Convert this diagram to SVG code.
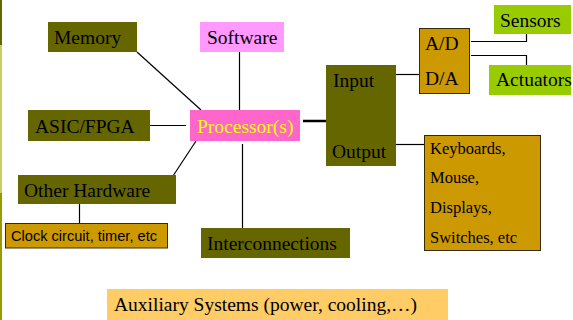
<svg xmlns="http://www.w3.org/2000/svg" width="573" height="320" viewBox="0 0 573 320">
<style>
.t{font-family:"Liberation Serif","Times New Roman",serif;font-size:19.5px;fill:#000}
.s{font-family:"Liberation Serif","Times New Roman",serif;font-size:16.5px;fill:#000}
.ol{fill:#666600}
.or{fill:#cc9900;stroke:#3a2a00;stroke-width:1}
.gr{fill:#99cc00}
.ln{stroke:#000;stroke-width:1.2;fill:none}
</style>
<rect x="0" y="0" width="573" height="320" fill="#fff"/>
<g id="edge">
<rect x="0" y="0" width="2" height="45" fill="#666600"/>
<rect x="0" y="45" width="2" height="148" fill="#cccc66"/>
<rect x="0" y="193" width="2" height="127" fill="#999900"/>
</g>
<g id="connectors">
<line class="ln" x1="137" y1="52" x2="201" y2="110"/>
<line class="ln" x1="239.5" y1="52" x2="239.5" y2="110"/>
<line class="ln" x1="150" y1="125.5" x2="186" y2="125.5"/>
<line class="ln" x1="196" y1="141" x2="171" y2="179"/>
<line class="ln" x1="242.5" y1="144" x2="242.5" y2="228"/>
<line x1="303" y1="121" x2="326" y2="121" stroke="#000" stroke-width="2.5"/>
<line class="ln" x1="396" y1="74.5" x2="419" y2="74.5"/>
<polyline class="ln" points="471,41.5 526.5,41.5 526.5,34"/>
<polyline class="ln" points="471,55.5 526.5,55.5 526.5,65"/>
<line class="ln" x1="396" y1="144.5" x2="424" y2="144.5"/>
<line class="ln" x1="79.5" y1="200" x2="79.5" y2="223"/>
</g>
<g id="memory"><rect class="ol" x="48" y="22" width="89" height="30"/><text class="t" x="54" y="44">Memory</text></g>
<g id="software"><rect x="200" y="22" width="84" height="30" fill="#ff99ff"/><text class="t" x="207" y="44">Software</text></g>
<g id="asic"><rect class="ol" x="28" y="110" width="122" height="31"/><text class="t" x="35" y="132.5">ASIC/FPGA</text></g>
<g id="processor"><rect x="190" y="110" width="110" height="31" fill="#ff66cc"/><text class="t" x="197" y="133" style="fill:#ffff00">Processor(s)</text></g>
<g id="io"><rect class="ol" x="326" y="65" width="70" height="101"/><text class="t" x="333" y="86.5">Input</text><text class="t" x="332" y="158">Output</text></g>
<g id="adda"><rect class="or" x="419.5" y="28.5" width="50" height="65"/><text class="t" x="425" y="50">A/D</text><text class="t" x="425" y="85">D/A</text></g>
<g id="sensors"><rect class="gr" x="494" y="5" width="77" height="29"/><text class="t" x="500" y="26.5">Sensors</text></g>
<g id="actuators"><rect class="gr" x="489" y="65" width="82" height="30"/><text class="t" x="496" y="86">Actuators</text></g>
<g id="devices"><rect class="or" x="424.5" y="135.5" width="116" height="115"/><text class="s" x="430" y="153.5">Keyboards,</text><text class="s" x="430" y="183">Mouse,</text><text class="s" x="430" y="213">Displays,</text><text class="s" x="430" y="243">Switches, etc</text></g>
<g id="otherhw"><rect class="ol" x="18" y="175" width="158" height="29"/><text class="t" x="24" y="196.5">Other Hardware</text></g>
<g id="clock"><rect class="or" x="5.5" y="223.5" width="162" height="24.5"/><text x="11" y="241" textLength="146" lengthAdjust="spacingAndGlyphs" style="font-family:'Liberation Sans',Arial,sans-serif;font-size:15.5px;fill:#000">Clock circuit, timer, etc</text></g>
<g id="interconnections"><rect class="ol" x="201" y="228" width="149" height="30"/><text class="t" x="207" y="249.5">Interconnections</text></g>
<g id="auxiliary"><rect x="107" y="289" width="341" height="31" fill="#ffcc66"/><text class="t" x="114" y="310.5">Auxiliary Systems (power, cooling,…)</text></g>
</svg>
